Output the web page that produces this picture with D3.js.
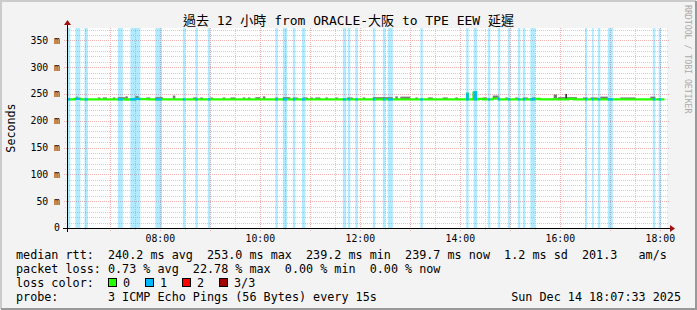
<!DOCTYPE html>
<html>
<head>
<meta charset="utf-8">
<script src="https://cdn.jsdelivr.net/npm/d3@7"></script>
<style>
  body { margin: 0; background: #f3f3f3; }
  svg { display: block; }
  text { font-family: "DejaVu Sans Mono", "Noto Sans CJK TC", monospace; fill: #000; white-space: pre; }
</style>
</head>
<body>
<div id="chart"></div>
<script>
const day = '2025-12-14';
const title = '過去 12 小時 from ORACLE-大阪 to TPE EEW 延遲';
const yLabel = 'Seconds';
const timeRange = ['06:08', '18:08'];
const yMax = 373;              // ms
const yTicks = [0, 50, 100, 150, 200, 250, 300, 350];
const xTicks = ['08:00', '10:00', '12:00', '14:00', '16:00', '18:00'];

// periods with 1 of 3 pings lost
const lossBars = [
  ['06:09', '06:12'], ['06:18', '06:24'], ['06:29', '06:33'], ['07:09', '07:15'],
  ['07:24', '07:36'], ['07:54', '08:02'], ['08:27', '08:30'], ['08:42', '08:45'],
  ['08:57', '09:00'], ['10:18', '10:21'], ['10:27', '10:32'], ['10:39', '10:42'],
  ['10:50', '10:54'], ['11:39', '11:43'], ['11:45', '11:48'], ['11:54', '11:57'],
  ['12:15', '12:18'], ['12:27', '12:30'], ['12:33', '12:39'], ['13:12', '13:15'],
  ['14:07', '14:10'], ['14:16', '14:20'], ['14:33', '14:36'], ['14:45', '14:48'],
  ['14:57', '15:00'], ['15:09', '15:12'], ['15:15', '15:18'], ['15:24', '15:30'],
  ['16:30', '16:32'], ['16:38', '16:40'], ['16:45', '16:48'], ['16:57', '17:03'],
  ['17:51', '17:54'], ['17:58', '18:01']
];

// median rtt (ms), value holds until next entry
const medianSteps = [
  ['06:08', 240.0], ['06:17', 240.8], ['06:25', 240.0], ['07:18', 239.2], ['07:21', 240.0],
  ['07:30', 241.0], ['07:36', 240.5], ['07:45', 240.0], ['14:08', 250.0], ['14:09', 240.0],
  ['14:16', 253.0], ['14:19', 240.0], ['14:22', 240.8], ['14:27', 240.0], ['14:39', 241.5],
  ['14:46', 240.0], ['15:30', 241.0], ['15:35', 240.0], ['15:52', 240.6], ['15:56', 240.0],
  ['16:10', 240.8], ['16:16', 240.0], ['18:05', 240.0]
];

// smoke: [from, to, highest ping ms]
const smoke = [
  ['06:19', '06:21', 245], ['06:45', '06:48', 243.5], ['06:51', '06:56', 243.5], ['07:03', '07:06', 243.5],
  ['07:09', '07:18', 244], ['07:18', '07:21', 245.5], ['07:30', '07:34', 246], ['07:43', '07:48', 243.5],
  ['07:54', '08:03', 244], ['08:15', '08:18', 247], ['08:39', '08:44', 243.5], ['08:48', '08:51', 243.5],
  ['09:00', '09:03', 243.5], ['09:15', '09:18', 243.5], ['09:24', '09:30', 243.5], ['09:39', '09:42', 243.5],
  ['09:45', '09:48', 243.5], ['09:54', '10:00', 244], ['10:03', '10:06', 245.5], ['10:18', '10:21', 243.5],
  ['10:27', '10:36', 244], ['10:39', '10:45', 243.5], ['10:51', '10:57', 243.5], ['11:00', '11:03', 243.5],
  ['11:06', '11:12', 243.5], ['11:18', '11:21', 243.5], ['11:30', '11:33', 243.5], ['11:44', '11:51', 243.5],
  ['12:03', '12:06', 243.5], ['12:15', '12:39', 244], ['12:42', '12:45', 245.5], ['12:48', '13:00', 245],
  ['13:06', '13:09', 243.5], ['13:21', '13:27', 243.5], ['13:39', '13:45', 243.5], ['13:54', '13:57', 243.5],
  ['14:08', '14:09', 250], ['14:15', '14:20', 253.5], ['14:27', '14:32', 243.5], ['14:39', '14:46', 247],
  ['14:54', '14:57', 243.5], ['15:06', '15:09', 243.5], ['15:15', '15:21', 243.5], ['15:26', '15:30', 243.5],
  ['15:52', '15:56', 249], ['15:57', '16:20', 244], ['16:06', '16:08', 250], ['16:27', '16:33', 243.5],
  ['16:36', '16:45', 243.5], ['16:48', '16:57', 245], ['17:12', '17:30', 243.5], ['17:48', '17:54', 245]
];

const statLabels = ['median rtt:', 'packet loss:', 'loss color:', 'probe:'];
const rttStats = ['240.2 ms avg', '253.0 ms max', '239.2 ms min', '239.7 ms now', '1.2 ms sd', '201.3   am/s'];
const lossStats = ['0.73 % avg', '22.78 % max', '0.00 % min', '0.00 % now'];
const lossLabels = ['0', '1', '2', '3/3'];
const lossColors = ['#26ff00', '#00b8ff', '#ff0000', '#a00000'];
const probeText = '3 ICMP Echo Pings (56 Bytes) every 15s';
const stamp = 'Sun Dec 14 18:07:33 2025';
const watermark = 'RRDTOOL / TOBI OETIKER';

const W = 697, H = 310;
const plot = { left: 67, top: 28, width: 600, height: 200 };
const parse = d3.timeParse('%Y-%m-%d %H:%M');
const t = s => parse(day + ' ' + s);

const svg = d3.select('#chart').append('svg')
  .attr('width', W).attr('height', H);

// frame
svg.append('rect').attr('width', W).attr('height', H).attr('fill', '#f3f3f3');
svg.append('path').attr('d', `M1,${H - 1}V1H${W - 1}`).attr('fill', 'none').attr('stroke', '#cbcbcb').attr('stroke-width', 2);
svg.append('path').attr('d', `M1,${H - 1}H${W - 1}V1`).attr('fill', 'none').attr('stroke', '#999').attr('stroke-width', 2);

const x = d3.scaleTime().domain(timeRange.map(t)).range([plot.left, plot.left + plot.width]);
const y = d3.scaleLinear().domain([0, yMax]).range([plot.top + plot.height, plot.top]);
const x0 = plot.left, x1 = plot.left + plot.width;
const y0 = plot.top + plot.height, y1 = plot.top;

svg.append('rect').attr('x', x0).attr('y', y1).attr('width', plot.width).attr('height', plot.height).attr('fill', '#fff');

// grid
const grid = svg.append('g').attr('shape-rendering', 'crispEdges').attr('stroke-dasharray', '1,1');
const minorY = d3.range(0, yMax, 10).filter(v => v % 50 !== 0);
grid.selectAll('.hmin').data(minorY).join('line')
  .attr('x1', x0 - 2).attr('x2', x1 + 2)
  .attr('y1', d => Math.round(y(d)) + 0.5).attr('y2', d => Math.round(y(d)) + 0.5)
  .attr('stroke', '#cfcfcf');
grid.selectAll('.hmaj').data(yTicks.filter(v => v > 0)).join('line')
  .attr('x1', x0 - 3).attr('x2', x1 + 2)
  .attr('y1', d => Math.round(y(d)) + 0.5).attr('y2', d => Math.round(y(d)) + 0.5)
  .attr('stroke', '#efb0b0');
const halfHours = x.ticks(d3.timeMinute.every(30));
grid.selectAll('.vmin').data(halfHours.filter(d => d.getMinutes() === 30)).join('line')
  .attr('x1', d => Math.round(x(d)) + 0.5).attr('x2', d => Math.round(x(d)) + 0.5)
  .attr('y1', y0 + 2).attr('y2', y1)
  .attr('stroke', '#cfcfcf');
grid.selectAll('.vmaj').data(halfHours.filter(d => d.getMinutes() === 0)).join('line')
  .attr('x1', d => Math.round(x(d)) + 0.5).attr('x2', d => Math.round(x(d)) + 0.5)
  .attr('y1', y0 + 3).attr('y2', y1)
  .attr('stroke', '#efb0b0');

// loss bars
svg.append('g').selectAll('rect').data(lossBars).join('rect')
  .attr('x', d => x(t(d[0]))).attr('width', d => x(t(d[1])) - x(t(d[0])))
  .attr('y', y1).attr('height', plot.height)
  .attr('fill', '#00b8ff').attr('fill-opacity', 0.3);

// smoke
svg.append('g').selectAll('rect').data(smoke).join('rect')
  .attr('x', d => x(t(d[0]))).attr('width', d => x(t(d[1])) - x(t(d[0])))
  .attr('y', d => y(d[2])).attr('height', d => y(240) - y(d[2]))
  .attr('fill', d => d[2] >= 250 ? '#333' : '#7a7a7a');

// median line
const line = d3.line().x(d => x(t(d[0]))).y(d => y(d[1])).curve(d3.curveStepAfter);
svg.append('path').attr('d', line(medianSteps))
  .attr('fill', 'none').attr('stroke', lossColors[0]).attr('stroke-width', 2.2);
const clip = svg.append('clipPath').attr('id', 'lossclip');
clip.selectAll('rect').data(lossBars).join('rect')
  .attr('x', d => x(t(d[0]))).attr('width', d => x(t(d[1])) - x(t(d[0])))
  .attr('y', 0).attr('height', H);
svg.append('path').attr('d', line(medianSteps)).attr('clip-path', 'url(#lossclip)')
  .attr('fill', 'none').attr('stroke', lossColors[1]).attr('stroke-width', 2.2);

// axes
const ax = svg.append('g').attr('shape-rendering', 'crispEdges');
ax.append('line').attr('x1', x0 - 4).attr('x2', x1 + 4).attr('y1', y0 + 0.5).attr('y2', y0 + 0.5).attr('stroke', '#000');
ax.append('line').attr('x1', x0 + 0.5).attr('x2', x0 + 0.5).attr('y1', y0 + 4).attr('y2', y1 - 4).attr('stroke', '#000');
svg.append('path').attr('d', `M${x1 + 3},${y0 - 3}L${x1 + 8},${y0 + 0.5}L${x1 + 3},${y0 + 4}Z`).attr('fill', '#a01010');
svg.append('path').attr('d', `M${x0 - 3},${y1 - 3}L${x0 + 0.5},${y1 - 8}L${x0 + 4},${y1 - 3}Z`).attr('fill', '#a01010');

svg.append('g').selectAll('text').data(yTicks).join('text')
  .attr('x', 60).attr('y', d => y(d)).attr('dy', '0.35em')
  .attr('text-anchor', 'end').attr('font-size', '9.8px')
  .text(d => d === 0 ? '0' : d + ' m');
svg.append('g').selectAll('text').data(xTicks).join('text')
  .attr('x', d => x(t(d))).attr('y', 241.5)
  .attr('text-anchor', 'middle').attr('font-size', '9.8px')
  .text(d => d);

// titles
svg.append('text').attr('x', W / 2).attr('y', 25).attr('text-anchor', 'middle')
  .attr('font-size', '13px').text(title);
svg.append('text').attr('transform', 'translate(15,128) rotate(-90)').attr('text-anchor', 'middle')
  .attr('font-size', '11.7px').text(yLabel);
svg.append('text').attr('transform', 'translate(685,5) rotate(90)')
  .attr('font-size', '8.2px').style('fill', '#aaaaaa').text(watermark);

// legend
const lx = 16, fs = '11.75px';
const rows = [
  statLabels[0].padEnd(13) + rttStats.join('  '),
  statLabels[1].padEnd(13) + lossStats.join('  '),
  statLabels[2],
  statLabels[3].padEnd(13) + probeText
];
svg.append('g').selectAll('text').data(rows).join('text')
  .attr('x', lx).attr('y', (d, i) => 258.5 + i * 14).attr('font-size', fs).text(d => d);
const lg = svg.append('g').selectAll('g').data(lossLabels).join('g')
  .attr('transform', (d, i) => `translate(${108 + i * 37},278)`);
lg.append('rect').attr('x', 0.5).attr('y', 0.5).attr('width', 8).attr('height', 8)
  .attr('fill', (d, i) => lossColors[i]).attr('stroke', '#000').attr('stroke-width', 1);
lg.append('text').attr('x', 15).attr('y', 8.5).attr('font-size', fs).text(d => d);
svg.append('text').attr('x', 681).attr('y', 300.5).attr('text-anchor', 'end').attr('font-size', fs).text(stamp);
</script>
</body>
</html>
